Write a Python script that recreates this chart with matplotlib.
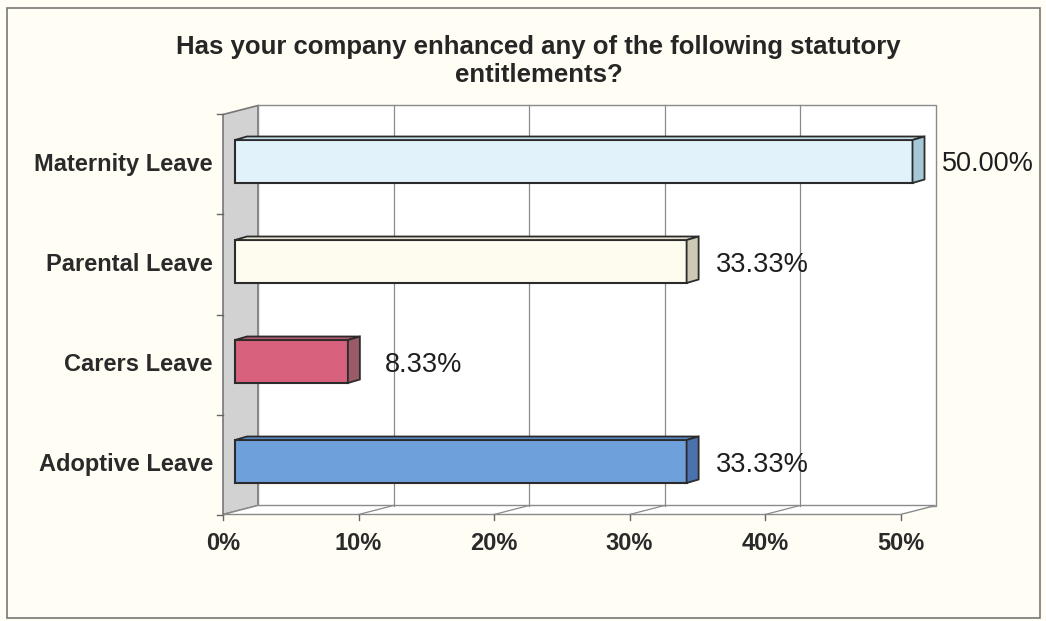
import matplotlib
matplotlib.use('Agg')
import matplotlib.pyplot as plt
from matplotlib.patches import Polygon, Rectangle

plt.rcParams['font.family'] = ['Liberation Sans', 'DejaVu Sans']

# data
categories = ['Maternity Leave', 'Parental Leave', 'Carers Leave', 'Adoptive Leave']
values = [50.00, 33.33, 8.33, 33.33]
value_labels = ['50.00%', '33.33%', '8.33%', '33.33%']
ticks = [0, 10, 20, 30, 40, 50]
tick_labels = ['0%', '10%', '20%', '30%', '40%', '50%']
title = 'Has your company enhanced any of the following statutory\nentitlements?'

face_colors = ['#e2f2fa', '#fefbef', '#d8627e', '#6ea0dc']
side_colors = ['#a6c8d6', '#cdc9b4', '#9a5a68', '#4b72ac']
top_colors = ['#c6e0ec', '#e8e4d2', '#b45a70', '#5a88c4']

# scale of the axes (pixels per unit)
px_x = 13.55
px_y = 100.0

fig = plt.figure(figsize=(10.46, 6.21), dpi=100)
fig.patch.set_facecolor('#fffdf4')
ax = fig.add_axes([0, 0, 1, 1])
ax.set_xlim(-223 / px_x, (1046 - 223) / px_x)
ax.set_ylim(-(621 - 464.5) / px_y, 464.5 / px_y)
ax.axis('off')

# 3d depth offsets (in data units)
wdx, wdy = 35 / px_x, 0.09      # depth of walls
bx0, by0 = 12 / px_x, 0.03      # bars sit this far back
bdx, bdy = 12 / px_x, 0.035     # depth of the bars
bar_h = 0.43
ymin, ymax = -0.5, len(categories) - 0.5
xmax = ticks[-1]

# side wall
ax.add_patch(Polygon([(0, ymin), (wdx, ymin + wdy), (wdx, ymax + wdy), (0, ymax)],
                     closed=True, facecolor='#d2d2d2', edgecolor='#777777', lw=1.2, zorder=1))
# back wall
ax.add_patch(Polygon([(wdx, ymin + wdy), (xmax + wdx, ymin + wdy),
                      (xmax + wdx, ymax + wdy), (wdx, ymax + wdy)],
                     closed=True, facecolor='white', edgecolor='#8a8a8a', lw=1.0, zorder=1))
# floor
ax.add_patch(Polygon([(0, ymin), (xmax, ymin), (xmax + wdx, ymin + wdy), (wdx, ymin + wdy)],
                     closed=True, facecolor='white', edgecolor='#8a8a8a', lw=1.0, zorder=1))

# gridlines on back wall and floor
for t in ticks[1:-1]:
    ax.plot([t + wdx, t + wdx], [ymin + wdy, ymax + wdy], color='#8a8a8a', lw=0.9, zorder=2)
    ax.plot([t, t + wdx], [ymin, ymin + wdy], color='#8a8a8a', lw=0.9, zorder=2)
for t, lab in zip(ticks, tick_labels):
    ax.plot([t, t], [ymin, ymin - 0.05], color='#666666', lw=1.0, zorder=2)
    ax.text(t, -0.795, lab, ha='center', va='center',
            fontsize=17, fontweight='bold', color='#2a2a2a')
for k in range(len(categories) + 1):
    ax.plot([0, -0.45], [ymin + k, ymin + k], color='#666666', lw=1.0, zorder=2)

# bars
ypos = [len(categories) - 1 - i for i in range(len(categories))]
yb = [y + by0 for y in ypos]
ax.barh(yb, values, left=bx0, height=bar_h, color=face_colors,
        edgecolor='#2b2b2b', lw=1.5, zorder=3)
for i, v in enumerate(values):
    x_end = bx0 + v
    lo, hi = yb[i] - bar_h / 2, yb[i] + bar_h / 2
    ax.add_patch(Polygon([(bx0, hi), (x_end, hi), (x_end + bdx, hi + bdy), (bx0 + bdx, hi + bdy)],
                         closed=True, facecolor=top_colors[i], edgecolor='#2b2b2b', lw=1.3, zorder=3))
    ax.add_patch(Polygon([(x_end, lo), (x_end + bdx, lo + bdy), (x_end + bdx, hi + bdy), (x_end, hi)],
                         closed=True, facecolor=side_colors[i], edgecolor='#2b2b2b', lw=1.3, zorder=3))
    ax.text(x_end + bdx + 4.7, yb[i] - 0.03, value_labels[i], ha='center', va='center',
            fontsize=19.5, color='#1e1e1e')
    ax.text(-0.74, ypos[i], categories[i], ha='right', va='center',
            fontsize=17, fontweight='bold', color='#2a2a2a')

# title
fig.text(0.515, 0.902, title, ha='center', va='center', fontsize=18.5,
         fontweight='bold', color='#262626', linespacing=1.2)

# chart border
fig.patches.append(Rectangle((7 / 1046, 3 / 621), 1033 / 1046, 610 / 621,
                             transform=fig.transFigure, fill=False,
                             edgecolor='#777777', lw=1.2))

fig.savefig('out.png', dpi=100, facecolor=fig.get_facecolor())
